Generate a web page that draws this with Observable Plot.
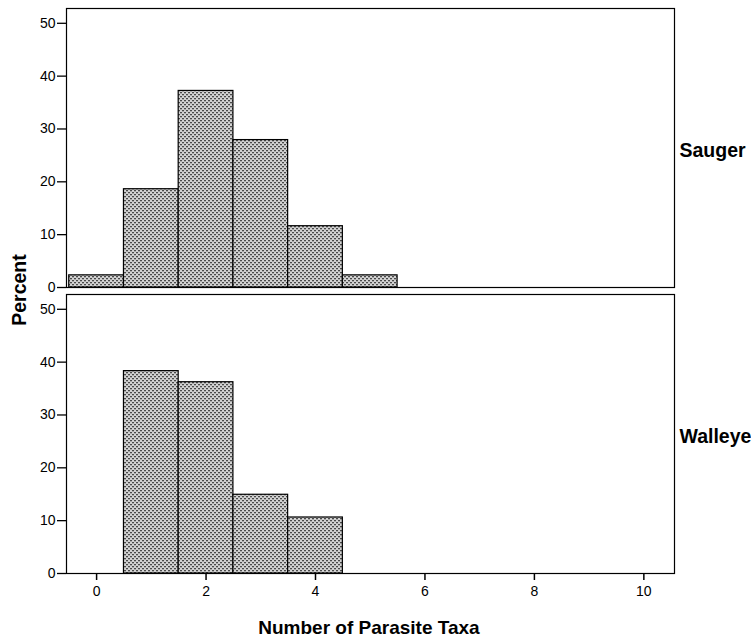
<!DOCTYPE html>
<html>
<head>
<meta charset="utf-8">
<script src="https://cdn.jsdelivr.net/npm/d3@7"></script>
<script src="https://cdn.jsdelivr.net/npm/@observablehq/plot@0.6"></script>
<style>
  body { margin: 0; background: #fff; }
  svg { display: block; }
  g[aria-label="x-axis tick label"],
  g[aria-label="y-axis tick label"] { font-size: 14px !important; }
</style>
</head>
<body>
<div id="chart"></div>
<script>
// Percent of fish carrying each number of parasite taxa, by species
const species = ["Sauger", "Walleye"];
const saugerTaxa = [0, 1, 2, 3, 4, 5];
const saugerPercent = [2.3, 18.6, 37.2, 27.9, 11.6, 2.3];
const walleyeTaxa = [1, 2, 3, 4];
const walleyePercent = [38.3, 36.2, 14.9, 10.6];
const xTicks = [0, 2, 4, 6, 8, 10];
const yTicks = [0, 10, 20, 30, 40, 50];

const rows = [
  ...saugerTaxa.map((t, i) => ({species: species[0], taxa: t, percent: saugerPercent[i]})),
  ...walleyeTaxa.map((t, i) => ({species: species[1], taxa: t, percent: walleyePercent[i]}))
];

const font = "'Liberation Sans', Arial, Helvetica, sans-serif";

const chart = Plot.plot({
  width: 751,
  height: 639,
  marginLeft: 66,
  marginRight: 77,
  marginTop: 8,
  marginBottom: 66,
  style: {fontFamily: font, fontSize: "14px", color: "#000", background: "#fff"},
  x: {domain: [-0.55, 10.56]},
  y: {domain: [0, 52.8]},
  fy: {domain: species, paddingInner: 0.025, paddingOuter: 0},
  marks: [
    Plot.frame({stroke: "#000", strokeWidth: 1.2}),
    Plot.rectY(rows, {
      x1: d => d.taxa - 0.5,
      x2: d => d.taxa + 0.5,
      y: "percent",
      fy: "species",
      fill: "url(#dots)",
      stroke: "#000",
      strokeWidth: 1.2
    }),
    Plot.axisY({ticks: yTicks, tickSize: 9, tickPadding: 2, label: null, strokeWidth: 1.3, fontSize: 14}),
    Plot.axisX({ticks: xTicks, tickSize: 7, tickPadding: 6, label: null, strokeWidth: 1.5, fontSize: 14}),
    Plot.axisFy({anchor: "right", label: null, tickSize: 0, tickPadding: 5, fontWeight: "bold", fontSize: 19.5, dy: 3})
  ]
});

// dotted grey fill used by the bars
const svg = d3.select(chart);
const defs = svg.insert("defs", ":first-child");
const pat = defs.append("pattern")
  .attr("id", "dots")
  .attr("patternUnits", "userSpaceOnUse")
  .attr("width", 4)
  .attr("height", 4);
pat.append("rect").attr("width", 4).attr("height", 4).attr("fill", "#d2d2d2");
pat.append("rect").attr("x", 0).attr("y", 0).attr("width", 2).attr("height", 1.3).attr("fill", "#4a4a4a");
pat.append("rect").attr("x", 2).attr("y", 2).attr("width", 2).attr("height", 1.3).attr("fill", "#4a4a4a");

// axis titles
svg.append("text")
  .attr("transform", "translate(26,290) rotate(-90)")
  .attr("text-anchor", "middle")
  .attr("font-family", font)
  .attr("font-weight", "bold")
  .attr("font-size", 19.5)
  .attr("fill", "#000")
  .text("Percent");

svg.append("text")
  .attr("x", 369)
  .attr("y", 634)
  .attr("text-anchor", "middle")
  .attr("font-family", font)
  .attr("font-weight", "bold")
  .attr("font-size", 19)
  .attr("fill", "#000")
  .text("Number of Parasite Taxa");

document.getElementById("chart").appendChild(chart);
</script>
</body>
</html>
